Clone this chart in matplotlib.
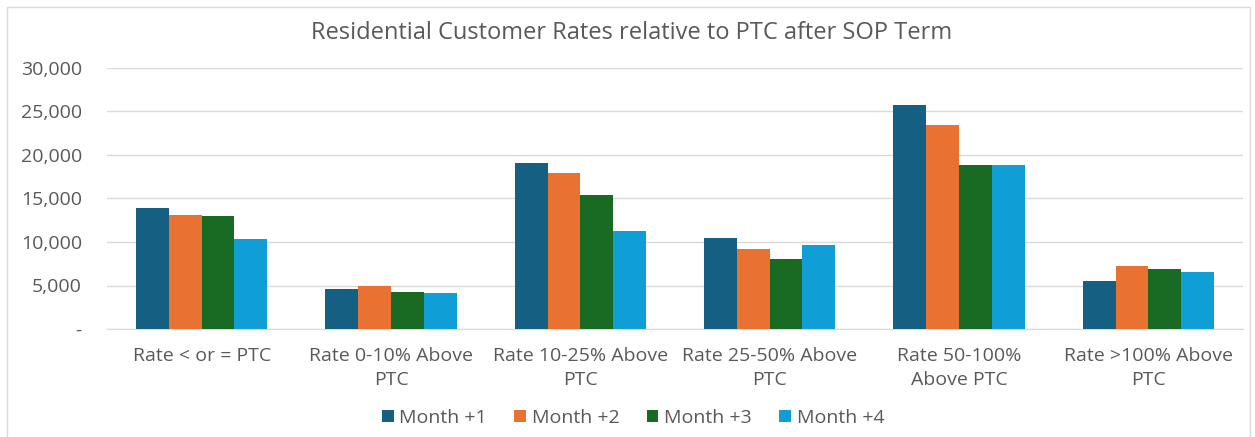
import matplotlib
matplotlib.use("Agg")
import matplotlib.pyplot as plt
import numpy as np
from matplotlib.patches import Rectangle

categories = ["Rate < or = PTC", "Rate 0-10% Above\nPTC", "Rate 10-25% Above\nPTC",
              "Rate 25-50% Above\nPTC", "Rate 50-100%\nAbove PTC", "Rate >100% Above\nPTC"]
series_names = ["Month +1", "Month +2", "Month +3", "Month +4"]
month1 = [13900, 4600, 19100, 10450, 25700, 5550]
month2 = [13100, 4900, 17950, 9150, 23400, 7200]
month3 = [13000, 4250, 15400, 8100, 18900, 6850]
month4 = [10300, 4150, 11300, 9600, 18900, 6500]
colors = ["#156082", "#E97132", "#196B24", "#0F9ED5"]

plt.rcParams['font.family'] = ['Open Sans', 'DejaVu Sans']

fig = plt.figure(figsize=(12.55, 4.37), dpi=100)
ax = fig.add_axes([107 / 1255, 108 / 437, 1136 / 1255, 261 / 437])

x = np.arange(len(categories))
width = 0.173
for i, (vals, name) in enumerate(zip([month1, month2, month3, month4], series_names)):
    ax.bar(x + (i - 1.5) * width, vals, width, color=colors[i], label=name, zorder=3)

ax.set_ylim(0, 30000)
ax.set_xlim(-0.5, len(categories) - 0.5)
ax.set_yticks(np.arange(0, 30001, 5000))
ax.set_yticklabels(["-"] + [f"{v:,}" for v in range(5000, 30001, 5000)])
ax.set_xticks(x)
ax.set_xticklabels(categories, linespacing=1.4)
ax.tick_params(axis='both', length=0, labelsize=14, colors="#595959")
ax.tick_params(axis='x', pad=13)
ax.tick_params(axis='y', pad=18)
ax.yaxis.grid(True, color="#D9D9D9", linewidth=1)
ax.set_axisbelow(True)
for s in ["top", "right", "left"]:
    ax.spines[s].set_visible(False)
ax.spines["bottom"].set_color("#D9D9D9")

fig.text(0.503, 1 - 33 / 437, "Residential Customer Rates relative to PTC after SOP Term",
         ha="center", va="center", fontsize=17, color="#595959")

fig.legend(loc="center", bbox_to_anchor=(633 / 1255, 1 - 418 / 437), ncol=4, frameon=False,
           fontsize=14, handlelength=0.6, handleheight=0.6, handletextpad=0.3,
           columnspacing=1.4, labelcolor="#595959")

fig.add_artist(Rectangle((7 / 1255, -0.01), 1243 / 1255, 1 - 7 / 437 + 0.01,
                         transform=fig.transFigure, fill=False,
                         edgecolor="#D9D9D9", linewidth=1))

fig.savefig("out.png", dpi=100)
